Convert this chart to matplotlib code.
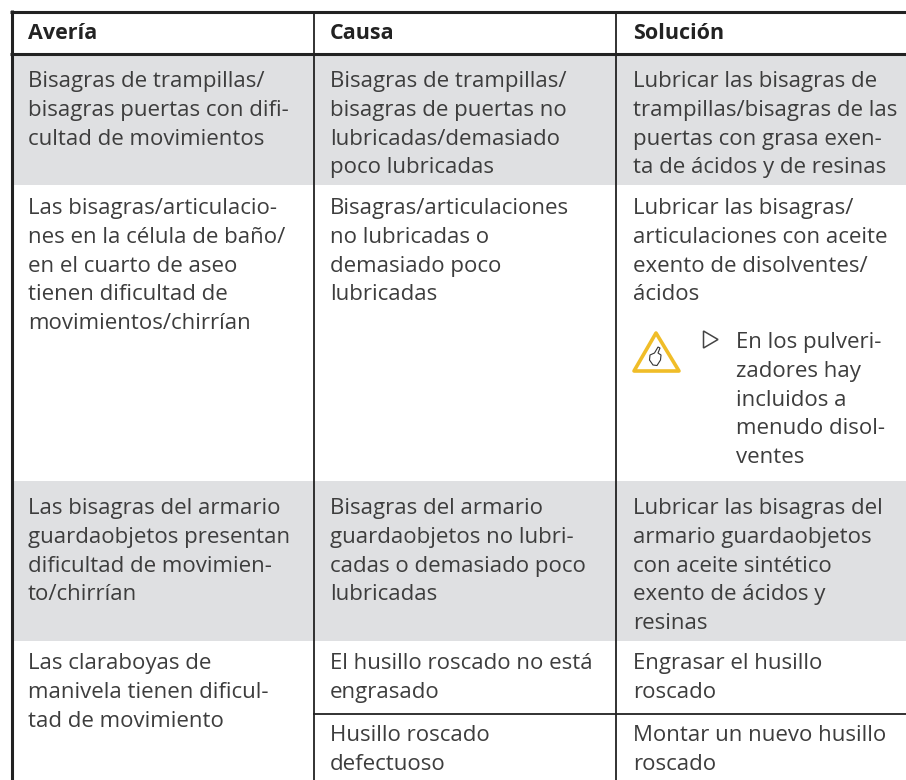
import matplotlib
matplotlib.use('Agg')
import matplotlib.pyplot as plt
from matplotlib.patches import Polygon, Rectangle

W, H = 906, 780
FONT = 'Open Sans'
TXT = '#3d3d3d'
DARK = '#222222'
GREY = '#dfe0e2'

headers = ['Avería', 'Causa', 'Solución']
col_text_x = [28, 330, 633]

# (column, first baseline, lines)
blocks = [
    (0, 87, ['Bisagras de trampillas/', 'bisagras puertas con difi-', 'cultad de movimientos']),
    (1, 87, ['Bisagras de trampillas/', 'bisagras de puertas no', 'lubricadas/demasiado', 'poco lubricadas']),
    (2, 87, ['Lubricar las bisagras de', 'trampillas/bisagras de las', 'puertas con grasa exen-', 'ta de ácidos y de resinas']),
    (0, 214, ['Las bisagras/articulacio-', 'nes en la célula de baño/', 'en el cuarto de aseo', 'tienen dificultad de', 'movimientos/chirrían']),
    (1, 214, ['Bisagras/articulaciones', 'no lubricadas o', 'demasiado poco', 'lubricadas']),
    (2, 214, ['Lubricar las bisagras/', 'articulaciones con aceite', 'exento de disolventes/', 'ácidos']),
    (0, 514, ['Las bisagras del armario', 'guardaobjetos presentan', 'dificultad de movimien-', 'to/chirrían']),
    (1, 514, ['Bisagras del armario', 'guardaobjetos no lubri-', 'cadas o demasiado poco', 'lubricadas']),
    (2, 514, ['Lubricar las bisagras del', 'armario guardaobjetos', 'con aceite sintético', 'exento de ácidos y', 'resinas']),
    (0, 669, ['Las claraboyas de', 'manivela tienen dificul-', 'tad de movimiento']),
    (1, 669, ['El husillo roscado no está', 'engrasado']),
    (2, 669, ['Engrasar el husillo', 'roscado']),
    (1, 741, ['Husillo roscado', 'defectuoso']),
    (2, 741, ['Montar un nuevo husillo', 'roscado']),
]
note_lines = ['En los pulveri-', 'zadores hay', 'incluidos a', 'menudo disol-', 'ventes']

fig = plt.figure(figsize=(W / 100, H / 100), dpi=100)
ax = fig.add_axes([0, 0, 1, 1])
ax.set_xlim(0, W)
ax.set_ylim(H, 0)
ax.axis('off')

# grey bands
for y0, y1 in [(54, 185), (481, 641)]:
    ax.add_patch(Rectangle((12, y0), W - 12, y1 - y0, fc=GREY, ec='none', zorder=0))

# rules
ax.plot([10, W], [11.5, 11.5], color=DARK, lw=2.2, solid_capstyle='butt')
ax.plot([10, W], [54, 54], color=DARK, lw=2.2, solid_capstyle='butt')
ax.plot([313, W], [714, 714], color=DARK, lw=1.3, solid_capstyle='butt')
ax.plot([11.5, 11.5], [10, H], color=DARK, lw=2.2, solid_capstyle='butt')
for x in [313.5, 615.5]:
    ax.plot([x, x], [11, H], color=DARK, lw=1.3, solid_capstyle='butt')

for x, h in zip(col_text_x, headers):
    ax.text(x, 39, h, fontsize=15.5, fontweight='bold', family=FONT, color=DARK, va='baseline')

for col, base, lines in blocks:
    for i, line in enumerate(lines):
        ax.text(col_text_x[col], base + i * 28.8, line, fontsize=16, family=FONT, color=TXT, va='baseline')

# warning note
for i, line in enumerate(note_lines):
    ax.text(736, 348 + i * 28.8, line, fontsize=16, family=FONT, color=TXT, va='baseline')
ax.add_patch(Polygon([(703.5, 331), (718, 339.5), (703.5, 348)], closed=True, fc='white', ec='#444444', lw=1.1))
ax.add_patch(Polygon([(656, 333), (679, 371), (634, 371)], closed=True, fc='white', ec='#f0bd28', lw=2.6, joinstyle='round'))
# pointing hand in the triangle, leaning right like the original
hand = [(658, 347), (660, 348), (658, 353), (661, 355), (660.5, 360), (657, 365.5),
        (653, 365), (649.5, 360), (650, 355), (654.5, 353)]
ax.add_patch(Polygon(hand, closed=True, fc='white', ec='#333333', lw=0.8))

fig.savefig('out.png', dpi=100)
